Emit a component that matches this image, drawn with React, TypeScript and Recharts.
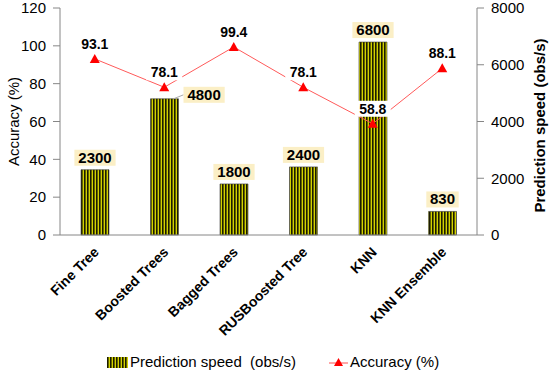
import React from 'react';
import {
    ComposedChart,
    Bar,
    Line,
    XAxis,
    YAxis,
    Legend,
    LabelList,
} from 'recharts';

// chart values
const categories = ['Fine Tree', 'Boosted Trees', 'Bagged Trees', 'RUSBoosted Tree', 'KNN', 'KNN Ensemble'];
const predictionSpeed = [2300, 4800, 1800, 2400, 6800, 830];
const accuracy = [93.1, 78.1, 99.4, 78.1, 58.8, 88.1];

const accuracyTicks = [0, 20, 40, 60, 80, 100, 120];
const speedTicks = [0, 2000, 4000, 6000, 8000];

const data = categories.map((name, i) => ({
    name,
    speed: predictionSpeed[i],
    accuracy: accuracy[i],
}));

const FONT = '"Liberation Sans", Arial, sans-serif';
const AXIS_GRAY = '#868686';

// minor ticks
const accMinor = Array.from({ length: 31 }, (_, i) => i * 4).filter(v => v % 20 !== 0);
const speedMinor = Array.from({ length: 17 }, (_, i) => i * 500).filter(v => v % 2000 !== 0);

// label placed to the right of the bar instead of on top
const sideLabel = 'Boosted Trees';

function BarValueLabel(props: any) {
    const { x, y, width, value, index } = props;
    const text = String(value);
    const w = text.length * 8.8 + 6;
    const h = 16;
    const cx = x + width / 2;
    if (categories[index] === sideLabel) {
        const bx = x + width + 5;
        const cy = y - 4;
        return (
            <g>
                <line x1={x + width - 5} y1={y} x2={bx} y2={cy} stroke="#aaaaaa" strokeWidth={1} />
                <rect x={bx} y={cy - h / 2} width={w} height={h} fill="#fbefc6" />
                <text x={bx + w / 2} y={cy + 5} textAnchor="middle" fontFamily={FONT} fontSize={15} fontWeight="bold" fill="#000">
                    {text}
                </text>
            </g>
        );
    }
    const cy = y - 12;
    return (
        <g>
            <rect x={cx - w / 2} y={cy - h / 2} width={w} height={h} fill="#fbefc6" />
            <text x={cx} y={cy + 5} textAnchor="middle" fontFamily={FONT} fontSize={15} fontWeight="bold" fill="#000">
                {text}
            </text>
        </g>
    );
}

function AccuracyLabel(props: any) {
    const { x, y, value } = props;
    const text = String(value);
    const w = text.length * 8 + 4;
    const cy = y - 15;
    return (
        <g>
            <rect x={x - w / 2} y={cy - 8} width={w} height={16} fill="#ffffff" />
            <text x={x} y={cy + 5} textAnchor="middle" fontFamily={FONT} fontSize={14} fontWeight="bold" fill="#000">
                {text}
            </text>
        </g>
    );
}

function TriangleDot(props: any) {
    const { cx, cy } = props;
    if (cx == null || cy == null) return null;
    return <path d={`M${cx},${cy - 5} L${cx + 5},${cy + 4} L${cx - 5},${cy + 4} Z`} fill="#ff0000" />;
}

function CategoryTick(props: any) {
    const { x, y, payload } = props;
    return (
        <g transform={`translate(${x + 5},${y + 10})`}>
            <text transform="rotate(-45)" textAnchor="end" fontFamily={FONT} fontSize={14} fontWeight="bold" fill="#000">
                {payload.value}
            </text>
        </g>
    );
}

function LegendContent() {
    return (
        <div style={{ height: 26, position: 'relative', fontFamily: FONT, fontSize: 15, color: '#000' }}>
            <svg width={22} height={12} style={{ position: 'absolute', left: 107, top: 10 }}>
                <rect x={0} y={0} width={21} height={11} fill="url(#stripes)" />
            </svg>
            <span style={{ position: 'absolute', left: 130, top: 6, whiteSpace: 'pre' }}>Prediction speed  (obs/s)</span>
            <svg width={20} height={12} style={{ position: 'absolute', left: 329, top: 10 }}>
                <line x1={0} y1={6} x2={19} y2={6} stroke="#ff5050" strokeWidth={1} />
                <path d="M9.5,1 L14,9 L5,9 Z" fill="#ff0000" />
            </svg>
            <span style={{ position: 'absolute', left: 350, top: 6, whiteSpace: 'pre' }}>Accuracy (%)</span>
        </div>
    );
}

function LeftTitle(props: any) {
    const { viewBox } = props;
    const cx = 13;
    const cy = viewBox.y + viewBox.height / 2;
    return (
        <text x={cx} y={cy} transform={`rotate(-90,${cx},${cy})`} textAnchor="middle" dominantBaseline="central" fontFamily={FONT} fontSize={15} fill="#000">
            Accuracy (%)
        </text>
    );
}

function RightTitle(props: any) {
    const { viewBox } = props;
    const cx = 539;
    const cy = viewBox.y + viewBox.height / 2 + 4;
    return (
        <text x={cx} y={cy} transform={`rotate(-90,${cx},${cy})`} textAnchor="middle" dominantBaseline="central" fontFamily={FONT} fontSize={15} fontWeight="bold" fill="#000">
            Prediction speed (obs/s)
        </text>
    );
}

export default function App() {
    return (
        <div style={{ position: 'absolute', left: 0, top: 0, width: 550, height: 373, background: '#fff' }}>
            <ComposedChart
                width={550}
                height={373}
                data={data}
                margin={{ top: 8, right: 0, left: 0, bottom: 0 }}
            >
                <defs>
                    <pattern id="stripes" width={3} height={4} patternUnits="userSpaceOnUse">
                        <rect x={0} y={0} width={3} height={4} fill="#d2d200" />
                        <rect x={0} y={0} width={1.6} height={4} fill="#1c1c00" />
                    </pattern>
                </defs>

                {/* boundary ticks between categories, pointing up */}
                <XAxis
                    xAxisId="bounds"
                    type="number"
                    domain={[0, 6]}
                    ticks={[1, 2, 3, 4, 5]}
                    allowDataOverflow
                    mirror
                    height={0}
                    tick={false}
                    axisLine={false}
                    tickSize={5}
                    tickLine={{ stroke: AXIS_GRAY }}
                />
                <XAxis
                    dataKey="name"
                    height={112}
                    interval={0}
                    tick={<CategoryTick />}
                    tickLine={false}
                    axisLine={{ stroke: AXIS_GRAY }}
                />
                {/* frame top */}
                <XAxis
                    xAxisId="top"
                    orientation="top"
                    type="number"
                    domain={[0, 6]}
                    allowDataOverflow
                    mirror
                    height={0}
                    tick={false}
                    tickLine={false}
                    axisLine={{ stroke: AXIS_GRAY }}
                />

                <YAxis
                    yAxisId="acc"
                    orientation="left"
                    width={60}
                    domain={[0, 120]}
                    ticks={accuracyTicks}
                    interval={0}
                    tickSize={7}
                    tickMargin={7}
                    tick={{ fontFamily: FONT, fontSize: 15, fill: '#000' }}
                    tickLine={{ stroke: AXIS_GRAY }}
                    axisLine={{ stroke: AXIS_GRAY }}
                    label={<LeftTitle />}
                />
                <YAxis
                    yAxisId="accMinor"
                    orientation="left"
                    mirror
                    width={0}
                    domain={[0, 120]}
                    ticks={accMinor}
                    interval={0}
                    allowDataOverflow
                    tick={false}
                    tickSize={4}
                    tickLine={{ stroke: AXIS_GRAY }}
                    axisLine={false}
                />
                <YAxis
                    yAxisId="speed"
                    orientation="right"
                    width={73}
                    domain={[0, 8000]}
                    ticks={speedTicks}
                    interval={0}
                    tickSize={7}
                    tickMargin={7}
                    tick={{ fontFamily: FONT, fontSize: 15, fill: '#000' }}
                    tickLine={{ stroke: AXIS_GRAY }}
                    axisLine={{ stroke: AXIS_GRAY }}
                    label={<RightTitle />}
                />
                <YAxis
                    yAxisId="speedMinor"
                    orientation="right"
                    mirror
                    width={0}
                    domain={[0, 8000]}
                    ticks={speedMinor}
                    interval={0}
                    allowDataOverflow
                    tick={false}
                    tickSize={4}
                    tickLine={{ stroke: AXIS_GRAY }}
                    axisLine={false}
                />

                <Legend verticalAlign="bottom" content={<LegendContent />} wrapperStyle={{ left: 0, width: 550 }} />

                <Bar
                    yAxisId="speed"
                    dataKey="speed"
                    name="Prediction speed  (obs/s)"
                    barSize={28}
                    fill="url(#stripes)"
                    stroke="#3a3a3a"
                    strokeWidth={0.6}
                    isAnimationActive={false}
                >
                    <LabelList dataKey="speed" content={<BarValueLabel />} />
                </Bar>
                <Line
                    yAxisId="acc"
                    dataKey="accuracy"
                    name="Accuracy (%)"
                    stroke="#ff5a5a"
                    strokeWidth={1}
                    dot={<TriangleDot />}
                    activeDot={false}
                    isAnimationActive={false}
                >
                    <LabelList dataKey="accuracy" content={<AccuracyLabel />} />
                </Line>
            </ComposedChart>
        </div>
    );
}
